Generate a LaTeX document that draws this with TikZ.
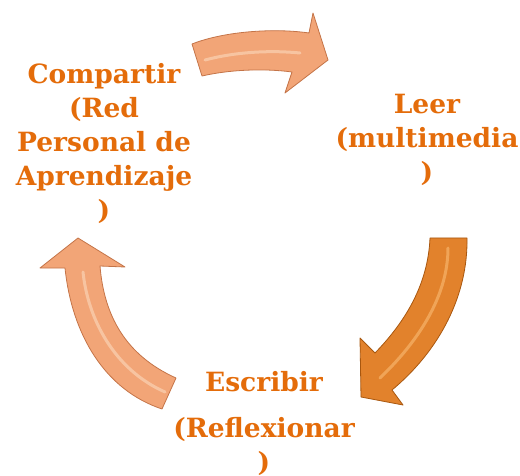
\documentclass[tikz,border=0pt]{standalone}
\usepackage{fontspec}
\setmainfont{DejaVu Serif}
\usepackage{xcolor}
\definecolor{txtorange}{HTML}{E46C0A}
\definecolor{peach}{HTML}{F2A577}
\definecolor{peachedge}{HTML}{C47448}
\definecolor{peachlight}{HTML}{FAD2B4}
\definecolor{amber}{HTML}{E2822C}
\definecolor{amberedge}{HTML}{A8570F}
\definecolor{amberlight}{HTML}{F6B36A}

\begin{document}
\begin{tikzpicture}[x=1pt, y=-1pt,
    label/.style={align=center, font=\fontsize{26.5}{34}\selectfont\bfseries, text=txtorange, inner sep=0pt},
    lightarrow/.style={fill=peach, draw=peachedge, line width=0.8pt, line join=round},
    darkarrow/.style={fill=amber, draw=amberedge, line width=0.8pt, line join=round},
    shine/.style={line width=3pt, line cap=round, opacity=0.7}
]
\useasboundingbox (0,0) rectangle (520,476);

% step labels
\node[label] (share) at (104,143) {Compartir\\(Red\\Personal de\\Aprendizaje\\)};
\node[label] (read) at (427,140) {Leer\\(multimedia\\)};
\node[label] (write) at (264,423) {Escribir\\[12pt](Reflexionar\\)};

% arrow from share to read
\draw[lightarrow] (192,44) .. controls (225,31) and (275,28) .. (309,33) -- (313,13) -- (328,60)
    -- (285,93) -- (292,72) .. controls (262,68) and (228,70) .. (202,76) -- cycle;
\draw[shine, peachlight] (205,60) .. controls (235,52) and (270,50) .. (300,53);

% arrow from read to write
\draw[darkarrow] (430,238) -- (467,238) .. controls (468,295) and (440,350) .. (392,390) -- (403,405)
    -- (361,397) -- (360,338) -- (375,353) .. controls (405,322) and (428,285) .. (430,238) -- cycle;
\draw[shine, amberlight] (448,248) .. controls (448,290) and (425,335) .. (380,378);

% arrow from write to share
\draw[lightarrow] (78,238) -- (125,267) -- (100,266) .. controls (104,315) and (125,355) .. (176,378)
    -- (162,409) .. controls (105,390) and (72,335) .. (65,268) -- (40,268) -- cycle;
\draw[shine, peachlight] (83,272) .. controls (88,320) and (115,370) .. (165,392);
\end{tikzpicture}
\end{document}
